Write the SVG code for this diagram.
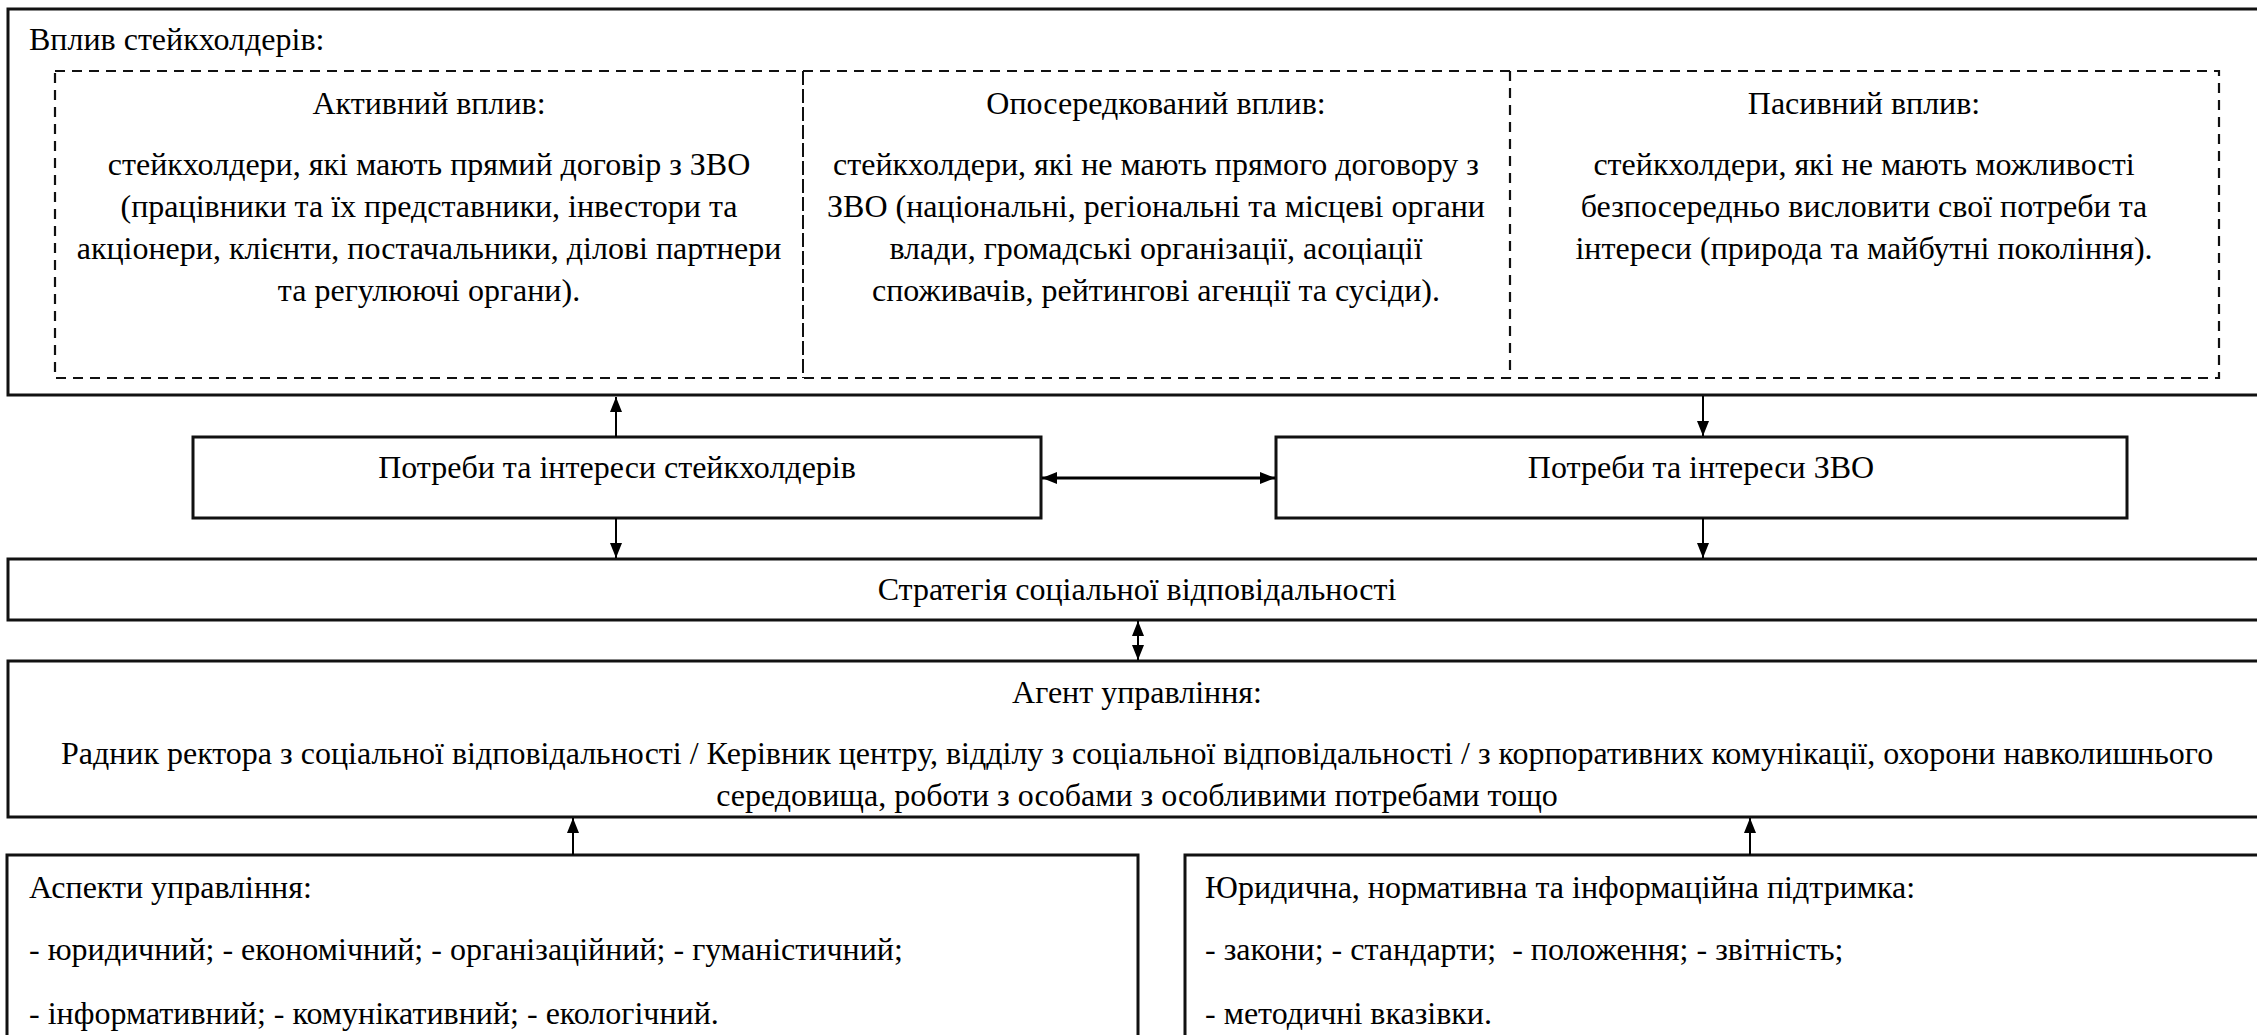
<svg xmlns="http://www.w3.org/2000/svg" width="2257" height="1035" viewBox="0 0 2257 1035" font-family="Liberation Serif, DejaVu Serif, serif">
<style>
text{font-family:'Liberation Serif','DejaVu Serif',serif;font-size:32px;fill:#000}
.c{text-anchor:middle}
.box{fill:none;stroke:#111;stroke-width:3}
.dash{fill:none;stroke:#111;stroke-width:2.2;stroke-dasharray:10 7}
.div{fill:none;stroke:#111;stroke-width:2;stroke-dasharray:14 4}
.con{fill:none;stroke:#000;stroke-width:2}
</style>
<defs>
<marker id="ah" markerUnits="userSpaceOnUse" markerWidth="16" markerHeight="12" refX="15" refY="6" orient="auto-start-reverse">
<path d="M0,0 L15,6 L0,12 z" fill="#000"/>
</marker>
</defs>
<rect width="2257" height="1035" fill="#fff"/>
<g id="influence">
<rect class="box" x="8" y="9" width="2270" height="386"/>
<text x="29" y="50">Вплив стейкхолдерів:</text>
<rect class="dash" x="55" y="71" width="2164" height="307"/>
<line class="div" x1="803" y1="71" x2="803" y2="378"/>
<line class="dash" x1="1510" y1="71" x2="1510" y2="378"/>
</g>
<g id="active">
<text class="c" x="429" y="114">Активний вплив:</text>
<text class="c" x="429" y="175">стейкхолдери, які мають прямий договір з ЗВО</text>
<text class="c" x="429" y="217">(працівники та їх представники, інвестори та</text>
<text class="c" x="429" y="259">акціонери, клієнти, постачальники, ділові партнери</text>
<text class="c" x="429" y="301">та регулюючі органи).</text>
</g>
<g id="mediated">
<text class="c" x="1156" y="114">Опосередкований вплив:</text>
<text class="c" x="1156" y="175">стейкхолдери, які не мають прямого договору з</text>
<text class="c" x="1156" y="217">ЗВО (національні, регіональні та місцеві органи</text>
<text class="c" x="1156" y="259">влади, громадські організації, асоціації</text>
<text class="c" x="1156" y="301">споживачів, рейтингові агенції та сусіди).</text>
</g>
<g id="passive">
<text class="c" x="1864" y="114">Пасивний вплив:</text>
<text class="c" x="1864" y="175">стейкхолдери, які не мають можливості</text>
<text class="c" x="1864" y="217">безпосередньо висловити свої потреби та</text>
<text class="c" x="1864" y="259">інтереси (природа та майбутні покоління).</text>
</g>
<g id="stakeholder-needs">
<rect class="box" x="193" y="437" width="848" height="81"/>
<text class="c" x="617" y="478">Потреби та інтереси стейкхолдерів</text>
</g>
<g id="hei-needs">
<rect class="box" x="1276" y="437" width="851" height="81"/>
<text class="c" x="1701" y="478">Потреби та інтереси ЗВО</text>
</g>
<g id="strategy">
<rect class="box" x="8" y="559" width="2270" height="61"/>
<text class="c" x="1137" y="600">Стратегія соціальної відповідальності</text>
</g>
<g id="agent">
<rect class="box" x="8" y="661" width="2270" height="156"/>
<text class="c" x="1137" y="703">Агент управління:</text>
<text class="c" x="1137" y="764">Радник ректора з соціальної відповідальності / Керівник центру, відділу з соціальної відповідальності / з корпоративних комунікації, охорони навколишнього</text>
<text class="c" x="1137" y="806">середовища, роботи з особами з особливими потребами тощо</text>
</g>
<g id="aspects">
<rect class="box" x="7" y="855" width="1131" height="200"/>
<text x="29" y="898">Аспекти управління:</text>
<text x="29" y="960">- юридичний; - економічний; - організаційний; - гуманістичний;</text>
<text x="29" y="1024">- інформативний; - комунікативний; - екологічний.</text>
</g>
<g id="support">
<rect class="box" x="1185" y="855" width="1090" height="200"/>
<text x="1205" y="898">Юридична, нормативна та інформаційна підтримка:</text>
<text x="1205" y="960" xml:space="preserve">- закони; - стандарти;  - положення; - звітність;</text>
<text x="1205" y="1024">- методичні вказівки.</text>
</g>
<g id="connectors">
<line class="con" x1="616" y1="437" x2="616" y2="397" marker-end="url(#ah)"/>
<line class="con" x1="1703" y1="396" x2="1703" y2="436" marker-end="url(#ah)"/>
<line class="con" x1="1042" y1="478" x2="1275" y2="478" style="stroke-width:3" marker-start="url(#ah)" marker-end="url(#ah)"/>
<line class="con" x1="616" y1="518" x2="616" y2="558" marker-end="url(#ah)"/>
<line class="con" x1="1703" y1="518" x2="1703" y2="558" marker-end="url(#ah)"/>
<line class="con" x1="1138" y1="621" x2="1138" y2="660" marker-start="url(#ah)" marker-end="url(#ah)"/>
<line class="con" x1="573" y1="855" x2="573" y2="818" marker-end="url(#ah)"/>
<line class="con" x1="1750" y1="855" x2="1750" y2="818" marker-end="url(#ah)"/>
</g>
</svg>
